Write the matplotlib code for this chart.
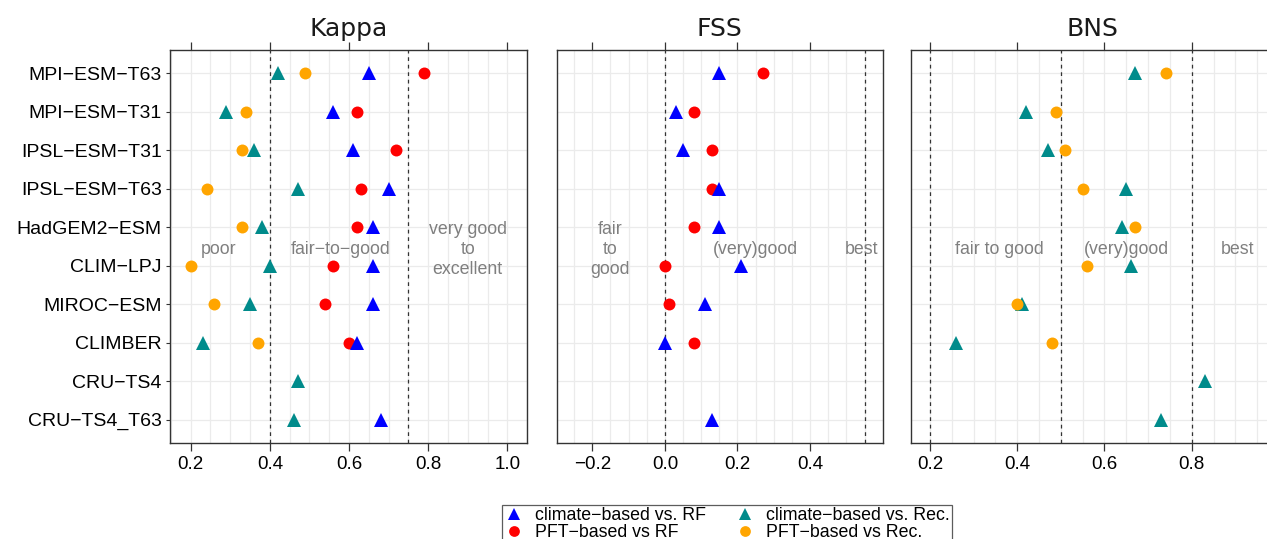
import numpy as np
import matplotlib
matplotlib.use("Agg")
import matplotlib.pyplot as plt
from matplotlib.lines import Line2D

nan = np.nan

# modelle, von oben nach unten
models = ["MPI−ESM−T63", "MPI−ESM−T31", "IPSL−ESM−T31", "IPSL−ESM−T63", "HadGEM2−ESM",
          "CLIM−LPJ", "MIROC−ESM", "CLIMBER", "CRU−TS4", "CRU−TS4_T63"]

kappa_clim_rf = [0.65, 0.56, 0.61, 0.70, 0.66, 0.66, 0.66, 0.62, nan, 0.68]
kappa_pft_rf = [0.79, 0.62, 0.72, 0.63, 0.62, 0.56, 0.54, 0.60, nan, nan]
kappa_clim_rec = [0.42, 0.29, 0.36, 0.47, 0.38, 0.40, 0.35, 0.23, 0.47, 0.46]
kappa_pft_rec = [0.49, 0.34, 0.33, 0.24, 0.33, 0.20, 0.26, 0.37, nan, nan]

fss_clim_rf = [0.15, 0.03, 0.05, 0.15, 0.15, 0.21, 0.11, 0.00, nan, 0.13]
fss_pft_rf = [0.27, 0.08, 0.13, 0.13, 0.08, 0.00, 0.01, 0.08, nan, nan]

bns_clim_rec = [0.67, 0.42, 0.47, 0.65, 0.64, 0.66, 0.41, 0.26, 0.83, 0.73]
bns_pft_rec = [0.74, 0.49, 0.51, 0.55, 0.67, 0.56, 0.40, 0.48, nan, nan]

# Schwellenwerte und Beschriftungen der Bereiche
kappa_limits = [0.4, 0.75]
fss_limits = [0.0, 0.55]
bns_limits = [0.2, 0.5, 0.8]
kappa_zones = ["poor", "fair−to−good", "very good\nto\nexcellent"]
fss_zones = ["fair\nto\ngood", "(very)good", "best"]
bns_zones = ["fair to good", "(very)good", "best"]
kappa_zone_x = [0.27, 0.58, 0.90]
fss_zone_x = [-0.15, 0.25, 0.542]
bns_zone_x = [0.36, 0.65, 0.905]

labels = ["climate−based vs. RF", "PFT−based vs RF",
          "climate−based vs. Rec.", "PFT−based vs Rec."]
colors = ["#0000FF", "#FF0000", "#008B8B", "#FFA500"]
markers = ["^", "o", "^", "o"]
msize = [10, 8.6, 10, 8.6]

W, H = 1267, 539
fig = plt.figure(figsize=(W / 100, H / 100), dpi=100)

def box(l, r, t=50, b=442.7):
    return [l / W, 1 - b / H, (r - l) / W, (b - t) / H]

ypos = np.arange(len(models), 0, -1)
sans = "Liberation Sans"

def panel(rect, title, xlim, xticks, limits, zones, zone_x, series):
    ax = fig.add_axes(rect)
    ax.set_xlim(*xlim)
    ax.set_ylim(0.4, len(models) + 0.6)
    grid = np.arange(-1.0, 1.2, 0.05)
    for g in grid:
        if xlim[0] < g < xlim[1]:
            ax.axvline(g, color="#EBEBEB", lw=0.9, zorder=0)
    for y in ypos:
        ax.axhline(y, color="#EBEBEB", lw=0.9, zorder=0)
    for v in limits:
        ax.axvline(v, color="#333333", lw=0.9, ls=(0, (3, 3)), zorder=1)
    for txt, x in zip(zones, zone_x):
        ax.text(x, 5.42, txt, ha="center", va="center", color="#7F7F7F",
                fontsize=12.8, family=sans, linespacing=1.25, zorder=2)
    for i in [1, 0, 2, 3]:
        vals = series[i]
        if vals is None:
            continue
        ax.plot(vals, ypos, ls="none", marker=markers[i], ms=msize[i],
                color=colors[i], markeredgewidth=0, zorder=3)
    ax.set_xticks(xticks)
    ax.set_xticklabels([f"{t:.1f}".replace("-", "−") for t in xticks],
                       family=sans, fontsize=13.5)
    ax.tick_params(axis="x", top=True, length=5.5, width=0.9, color="#333333",
                   pad=4, labelcolor="black")
    for s in ax.spines.values():
        s.set_color("#333333")
        s.set_linewidth(1.0)
    ax.set_title(title, fontsize=18, color="#1A1A1A", pad=10, family="DejaVu Sans")
    return ax

ax1 = panel(box(170, 527.3), "Kappa", (0.1477, 1.0505), [0.2, 0.4, 0.6, 0.8, 1.0],
            kappa_limits, kappa_zones, kappa_zone_x,
            [kappa_clim_rf, kappa_pft_rf, kappa_clim_rec, kappa_pft_rec])
ax1.set_yticks(ypos)
ax1.set_yticklabels(models, family=sans, fontsize=14)
ax1.tick_params(axis="y", length=3, color="#333333", pad=3)

ax2 = panel(box(556.7, 882.7), "FSS", (-0.298, 0.6), [-0.2, 0.0, 0.2, 0.4],
            fss_limits, fss_zones, fss_zone_x,
            [fss_clim_rf, fss_pft_rf, None, None])
ax2.set_yticks([])

ax3 = panel(box(910.7, 1275), "BNS", (0.1557, 0.991), [0.2, 0.4, 0.6, 0.8],
            bns_limits, bns_zones, bns_zone_x,
            [None, None, bns_clim_rec, bns_pft_rec])
ax3.set_yticks([])

handles = [Line2D([], [], ls="none", marker=markers[i], ms=msize[i] * 0.9,
                  color=colors[i], markeredgewidth=0) for i in range(4)]
leg = fig.legend(handles, labels, ncol=2, loc="upper left",
                 bbox_to_anchor=(501.7 / W, 1 - 505 / H),
                 prop={"family": sans, "size": 12.8}, frameon=True, fancybox=False,
                 labelspacing=0.0, handletextpad=0.6, columnspacing=1.55,
                 borderpad=0.1, handlelength=1.2, borderaxespad=0)
leg.get_frame().set_edgecolor("#333333")
leg.get_frame().set_linewidth(0.9)

fig.savefig("out.png", dpi=100)
